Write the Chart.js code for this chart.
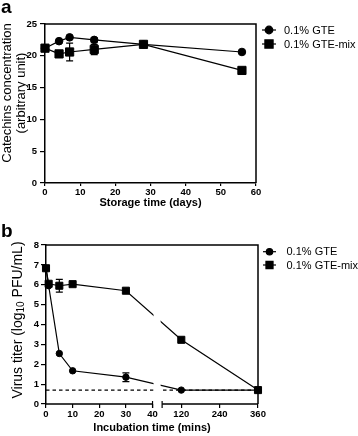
<!DOCTYPE html>
<html>
<head>
<meta charset="utf-8">
<script src="https://cdn.jsdelivr.net/npm/chart.js@4.4.0/dist/chart.umd.min.js"></script>
<style>
  html, body { margin: 0; padding: 0; background: #fff; }
  canvas { position: absolute; left: 0; }
  #chartA { top: 0; }
  #chartB { top: 212px; }
</style>
</head>
<body>
<canvas id="chartA" width="358" height="212"></canvas>
<canvas id="chartB" width="358" height="224"></canvas>
<script>
// ---- panel a : catechins over storage ----
const storageDays   = [0, 4, 7, 14, 28, 56];
const gteConc       = [21.2, 22.3, 22.9, 22.5, 21.8, 20.6];
const gteConcErr    = [0, 0, 0, 0.3, 0, 0];
const gteMixConc    = [21.2, 20.3, 20.6, 21.0, 21.8, 17.7];
const gteMixConcErr = [0, 0, 1.4, 0.8, 0, 0];
const dayTicks      = [0, 10, 20, 30, 40, 50, 60];
const concTicks     = [0, 5, 10, 15, 20, 25];

// ---- panel b : virus titer over incubation ----
const incubationMins = [0, 1, 5, 10, 30, 120, 360];
const gteTiter       = [6.83, 5.95, 2.54, 1.67, 1.35, 0.7, 0.7];
const gteTiterErr    = [0, 0, 0, 0, 0.22, 0, 0];
const gteMixTiter    = [6.83, 6.05, 5.95, 6.03, 5.7, 3.23, 0.7];
const gteMixTiterErr = [0, 0, 0.32, 0, 0, 0, 0];
const detectionLimit = [0.7, 0.7];
const limitMins      = [0, 360];
const minTicks       = [0, 10, 20, 30, 40, 120, 240, 360];
const titerTicks     = [0, 1, 2, 3, 4, 5, 6, 7, 8];

const seriesNames = ['0.1% GTE', '0.1% GTE-mix'];

const FONT = "'Liberation Sans', Arial, sans-serif";
Chart.defaults.font.family = FONT;
Chart.defaults.color = '#000';

// linear axis with a gap between brk.from and brk.to
class BrokenScale extends Chart.LinearScale {
  static id = 'broken';
  static defaults = {};
  toU(v) {
    const b = this.options.brk;
    return v <= b.from ? v : b.from + b.gap + (v - b.to) * b.ratio;
  }
  getPixelForValue(v) {
    if (v === null || v === undefined) return NaN;
    const a = this.toU(this.min), z = this.toU(this.max);
    return this.getPixelForDecimal((this.toU(v) - a) / (z - a));
  }
  getValueForPixel(p) {
    const b = this.options.brk;
    const a = this.toU(this.min), z = this.toU(this.max);
    const u = a + this.getDecimalForPixel(p) * (z - a);
    return u <= b.from ? u : b.to + (u - b.from - b.gap) / b.ratio;
  }
}
Chart.register(BrokenScale);

function xy(xs, ys) {
  return xs.map((x, i) => ({ x: x, y: ys[i] }));
}

function series(label, xs, ys, errs, style, r) {
  return {
    label: label,
    data: xy(xs, ys),
    errors: errs,
    borderColor: '#000',
    backgroundColor: '#000',
    borderWidth: 1.2,
    pointStyle: style,
    pointRadius: r,
    pointBorderWidth: 1,
    tension: 0,
    clip: false
  };
}

function axis(tickVals, tickLen, pad, extra) {
  return Object.assign({
    grid: { drawOnChartArea: false, drawTicks: true, tickLength: tickLen, color: '#000', lineWidth: 1.2 },
    border: { display: true, color: '#000', width: 1.5 },
    ticks: { color: '#000', font: { size: 9.5, weight: 'bold' }, padding: pad, autoSkip: false, maxRotation: 0,
             callback: v => String(v) },
    afterBuildTicks: s => { s.ticks = tickVals.map(v => ({ value: v })); }
  }, extra);
}

// error bars under the markers
const errorBars = {
  id: 'errorBars',
  beforeDatasetsDraw(chart) {
    const ctx = chart.ctx, ys = chart.scales.y;
    ctx.save();
    ctx.strokeStyle = '#000';
    ctx.lineWidth = 1.2;
    chart.data.datasets.forEach((ds, i) => {
      if (!ds.errors) return;
      const meta = chart.getDatasetMeta(i);
      ds.errors.forEach((e, j) => {
        if (!e) return;
        const x = meta.data[j].x;
        const t = ys.getPixelForValue(ds.data[j].y + e);
        const b = ys.getPixelForValue(ds.data[j].y - e);
        ctx.beginPath();
        ctx.moveTo(x, t); ctx.lineTo(x, b);
        ctx.moveTo(x - 3.5, t); ctx.lineTo(x + 3.5, t);
        ctx.moveTo(x - 3.5, b); ctx.lineTo(x + 3.5, b);
        ctx.stroke();
      });
    });
    ctx.restore();
  }
};

// frame, axis break, panel letter, y title, legend
const extras = {
  id: 'extras',
  afterDatasetsDraw(chart, args, o) {
    const ctx = chart.ctx, ca = chart.chartArea;
    ctx.save();
    if (o.broken) {
      const xs = chart.scales.x;
      const p1 = xs.getPixelForValue(40), p2 = xs.getPixelForValue(60);
      ctx.fillStyle = '#fff';
      ctx.fillRect(p1 + 1, ca.top + 1, p2 - p1 - 2.5, ca.bottom - ca.top - 1.5);
      ctx.strokeStyle = '#000';
      ctx.lineWidth = 1.5;
      ctx.beginPath();
      ctx.moveTo(ca.left, ca.bottom); ctx.lineTo(p1, ca.bottom);
      ctx.moveTo(p2, ca.bottom); ctx.lineTo(ca.right, ca.bottom);
      ctx.stroke();
      ctx.lineWidth = 1.2;
      ctx.beginPath();
      ctx.moveTo(p1, ca.bottom - 3); ctx.lineTo(p1, ca.bottom + 4);
      ctx.moveTo(p2, ca.bottom - 3); ctx.lineTo(p2, ca.bottom + 4);
      ctx.stroke();
    }
    ctx.strokeStyle = '#000';
    ctx.lineWidth = 1.5;
    ctx.beginPath();
    ctx.moveTo(ca.left, ca.top); ctx.lineTo(ca.right, ca.top); ctx.lineTo(ca.right, ca.bottom);
    ctx.stroke();
    ctx.restore();
  },
  afterDraw(chart, args, o) {
    const ctx = chart.ctx;
    ctx.save();
    ctx.fillStyle = '#000';
    // panel letter
    ctx.font = 'bold 19px ' + FONT;
    ctx.textBaseline = 'alphabetic';
    ctx.textAlign = 'left';
    ctx.fillText(o.letter, 1, o.letterY);
    // y title
    ctx.font = o.titleSize + 'px ' + FONT;
    ctx.textBaseline = 'middle';
    if (o.yLines) {
      o.yLines.forEach((t, i) => {
        ctx.save();
        ctx.translate(o.yLineX[i], o.yCenter);
        ctx.rotate(-Math.PI / 2);
        ctx.textAlign = 'center';
        ctx.fillText(t, 0, 0);
        ctx.restore();
      });
    }
    if (o.yParts) {
      const fontFor = p => (p.sub ? Math.round(o.titleSize * 0.68) : o.titleSize) + 'px ' + FONT;
      const widths = o.yParts.map(p => {
        ctx.font = fontFor(p);
        return ctx.measureText(p.text).width;
      });
      const total = widths.reduce((a, b) => a + b, 0);
      ctx.save();
      ctx.translate(o.yLineX[0], o.yCenter);
      ctx.rotate(-Math.PI / 2);
      ctx.textAlign = 'left';
      let x = -total / 2;
      o.yParts.forEach((p, i) => {
        ctx.font = fontFor(p);
        ctx.fillText(p.text, x, p.sub ? 3.5 : 0);
        x += widths[i];
      });
      ctx.restore();
    }
    // legend
    const L = o.legend;
    ctx.font = '11px ' + FONT;
    ctx.textAlign = 'left';
    ctx.textBaseline = 'middle';
    let row = 0;
    chart.data.datasets.forEach(ds => {
      if (!ds.label) return;
      const y = L.y + row * L.dy;
      ctx.strokeStyle = '#000';
      ctx.lineWidth = 1.2;
      ctx.beginPath();
      ctx.moveTo(L.x0, y); ctx.lineTo(L.x1, y);
      ctx.stroke();
      ctx.fillStyle = '#000';
      Chart.helpers.drawPoint(ctx, { pointStyle: ds.pointStyle, radius: ds.pointRadius, rotation: 0, borderWidth: 1 },
        (L.x0 + L.x1) / 2, y);
      ctx.fillText(ds.label, L.tx, y + 0.5);
      row++;
    });
    ctx.restore();
  }
};

// panel a
new Chart(document.getElementById('chartA'), {
  type: 'line',
  data: {
    datasets: [
      series(seriesNames[0], storageDays, gteConc, gteConcErr, 'circle', 3.8),
      series(seriesNames[1], storageDays, gteMixConc, gteMixConcErr, 'rect', 5.8)
    ]
  },
  options: {
    responsive: false,
    animation: false,
    events: [],
    layout: { padding: { left: 0, top: 24, right: 102, bottom: 0 } },
    scales: {
      x: axis(dayTicks, 3, 1, {
        type: 'linear', min: 0, max: 60,
        title: { display: true, text: 'Storage time (days)', color: '#000',
                 font: { size: 11, weight: 'bold' }, padding: { top: 0, bottom: 2.4 } },
        afterFit: s => { s.height = 29; }
      }),
      y: axis(concTicks, 5, 3, {
        type: 'linear', min: 0, max: 25,
        afterFit: s => { s.width = 45; }
      })
    },
    plugins: {
      legend: { display: false },
      tooltip: { enabled: false },
      extras: {
        letter: 'a', letterY: 13, titleSize: 13,
        yLines: ['Catechins concentration', '(arbitrary unit)'],
        yLineX: [7, 21], yCenter: 93,
        legend: { x0: 262, x1: 276, tx: 284, y: 30, dy: 14 }
      }
    }
  },
  plugins: [errorBars, extras]
});

// panel b
const limitLine = {
  data: xy(limitMins, detectionLimit),
  borderColor: '#000',
  borderWidth: 1.2,
  borderDash: [3.5, 3],
  pointRadius: 0,
  tension: 0,
  clip: false
};

new Chart(document.getElementById('chartB'), {
  type: 'line',
  data: {
    datasets: [
      limitLine,
      series(seriesNames[0], incubationMins, gteTiter, gteTiterErr, 'circle', 3.2),
      series(seriesNames[1], incubationMins, gteMixTiter, gteMixTiterErr, 'rect', 5)
    ]
  },
  options: {
    responsive: false,
    animation: false,
    events: [],
    layout: { padding: { left: 0, top: 33, right: 100, bottom: 0 } },
    scales: {
      x: axis(minTicks, 4, 0.5, {
        type: 'broken', min: 0, max: 360,
        brk: { from: 40, to: 60, gap: 3.6, ratio: 0.12 },
        border: { display: false },
        title: { display: true, text: 'Incubation time (mins)', color: '#000',
                 font: { size: 11, weight: 'bold' }, padding: { top: 0, bottom: 1.4 } },
        afterFit: s => { s.height = 32; }
      }),
      y: axis(titerTicks, 5, 2, {
        type: 'linear', min: 0, max: 8,
        afterFit: s => { s.width = 46; }
      })
    },
    plugins: {
      legend: { display: false },
      tooltip: { enabled: false },
      extras: {
        letter: 'b', letterY: 25, broken: true, titleSize: 14,
        yParts: [{ text: 'Virus titer (log' }, { text: '10', sub: true }, { text: ' PFU/mL)' }],
        yLineX: [18], yCenter: 108,
        legend: { x0: 263, x1: 276, tx: 286.5, y: 39.7, dy: 13.3 }
      }
    }
  },
  plugins: [errorBars, extras]
});
</script>
</body>
</html>
